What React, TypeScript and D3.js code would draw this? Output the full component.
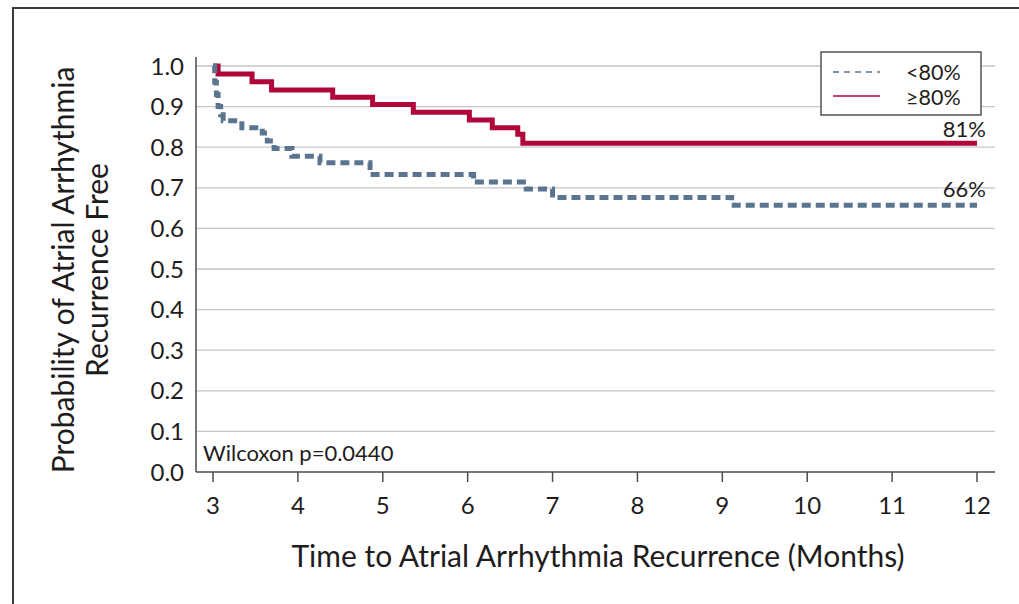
import * as d3 from 'd3'

// Kaplan-Meier step data (time in months, survival probability)
const lowTimes = [3, 3.02, 3.04, 3.06, 3.09, 3.12, 3.34, 3.58, 3.64, 3.72, 3.93, 4.26, 4.85, 6.07, 6.69, 7.0, 9.11, 12]
const lowValues = [1, 0.96, 0.93, 0.9, 0.88, 0.865, 0.848, 0.835, 0.815, 0.797, 0.778, 0.762, 0.733, 0.714, 0.697, 0.676, 0.657, 0.657]

const highTimes = [3, 3.06, 3.46, 3.69, 4.41, 4.88, 5.36, 6.02, 6.29, 6.59, 6.65, 12]
const highValues = [1, 0.98, 0.961, 0.941, 0.923, 0.905, 0.886, 0.867, 0.848, 0.832, 0.81, 0.81]

const xTicks = [3, 4, 5, 6, 7, 8, 9, 10, 11, 12]
const yTicks = [0, 0.1, 0.2, 0.3, 0.4, 0.5, 0.6, 0.7, 0.8, 0.9, 1.0]
const seriesLabels = ['<80%', '≥80%']
const endLabels = ['66%', '81%']

const RED = '#b0063a'
const BLUE = '#5b7590'
const INK = '#1f1c1d'
const FONT = 'Lato, "Open Sans", sans-serif'

export default function App() {
  const width = 1019
  const height = 604
  const plotLeft = 196
  const plotRight = 995

  const x = d3.scaleLinear().domain([3, 12]).range([213, 977])
  const y = d3.scaleLinear().domain([0, 1]).range([472, 66])

  const line = d3.line<[number, number]>()
    .x(d => x(d[0]))
    .y(d => y(d[1]))
    .curve(d3.curveStepAfter)

  const lowPts = lowTimes.map((t, i) => [t, lowValues[i]] as [number, number])
  const highPts = highTimes.map((t, i) => [t, highValues[i]] as [number, number])

  const lastLow = lowValues[lowValues.length - 1]
  const lastHigh = highValues[highValues.length - 1]

  return (
    <svg width={width} height={height} style={{ position: 'absolute', left: 0, top: 0, background: '#fff' }}
      fontFamily={FONT}>
      {/* outer frame */}
      <rect x={13} y={8} width={width + 20} height={height + 20} fill="none" stroke="#3a3a3a" strokeWidth={2} />

      {/* grid */}
      {yTicks.filter(v => v > 0).map(v => (
        <line key={'g' + v} x1={plotLeft} x2={plotRight} y1={y(v)} y2={y(v)} stroke="#c6c6c9" strokeWidth={1.3} />
      ))}

      {/* axes */}
      <line x1={plotLeft} x2={plotLeft} y1={57} y2={y(0)} stroke="#4a4a4a" strokeWidth={1.5} />
      <line x1={plotLeft} x2={plotRight} y1={y(0)} y2={y(0)} stroke="#4a4a4a" strokeWidth={1.5} />
      {xTicks.map(t => (
        <g key={'x' + t}>
          <line x1={x(t)} x2={x(t)} y1={y(0)} y2={y(0) + 10} stroke="#4a4a4a" strokeWidth={1.5} />
          <text x={x(t)} y={514} textAnchor="middle" fontSize={24} fill={INK}>{t}</text>
        </g>
      ))}
      {yTicks.map(v => (
        <text key={'y' + v} x={184} y={y(v) + 8.5} textAnchor="end" fontSize={24} fill={INK}>{v.toFixed(1)}</text>
      ))}

      {/* axis titles */}
      <text x={598} y={567} textAnchor="middle" fontSize={30} fill={INK}>Time to Atrial Arrhythmia Recurrence (Months)</text>
      <g transform="translate(74,270) rotate(-90)">
        <text x={0} y={0} textAnchor="middle" fontSize={30} fill={INK}>Probability of Atrial Arrhythmia</text>
        <text x={0} y={34} textAnchor="middle" fontSize={30} fill={INK}>Recurrence Free</text>
      </g>

      {/* curves */}
      <path d={line(highPts) ?? ''} fill="none" stroke={RED} strokeWidth={5} />
      <path d={line(lowPts) ?? ''} fill="none" stroke={BLUE} strokeWidth={5} strokeDasharray="9,5" />

      {/* end labels */}
      <text x={986} y={y(lastHigh) - 6} textAnchor="end" fontSize={22} fill={INK}>{endLabels[1]}</text>
      <text x={986} y={y(lastLow) - 8} textAnchor="end" fontSize={22} fill={INK}>{endLabels[0]}</text>

      <text x={203} y={461} fontSize={22} fill={INK}>Wilcoxon p=0.0440</text>

      {/* legend */}
      <rect x={821} y={52} width={160} height={63} fill="#fff" stroke="#3a3a3a" strokeWidth={1.3} />
      <line x1={833} x2={880} y1={72} y2={72} stroke={BLUE} strokeWidth={1.5} strokeDasharray="6,5" />
      <line x1={833} x2={880} y1={96} y2={96} stroke={RED} strokeWidth={1.5} />
      <text x={906} y={80} fontSize={21.5} fill={INK}>{seriesLabels[0]}</text>
      <text x={906} y={105} fontSize={21.5} fill={INK}>{seriesLabels[1]}</text>
    </svg>
  )
}
